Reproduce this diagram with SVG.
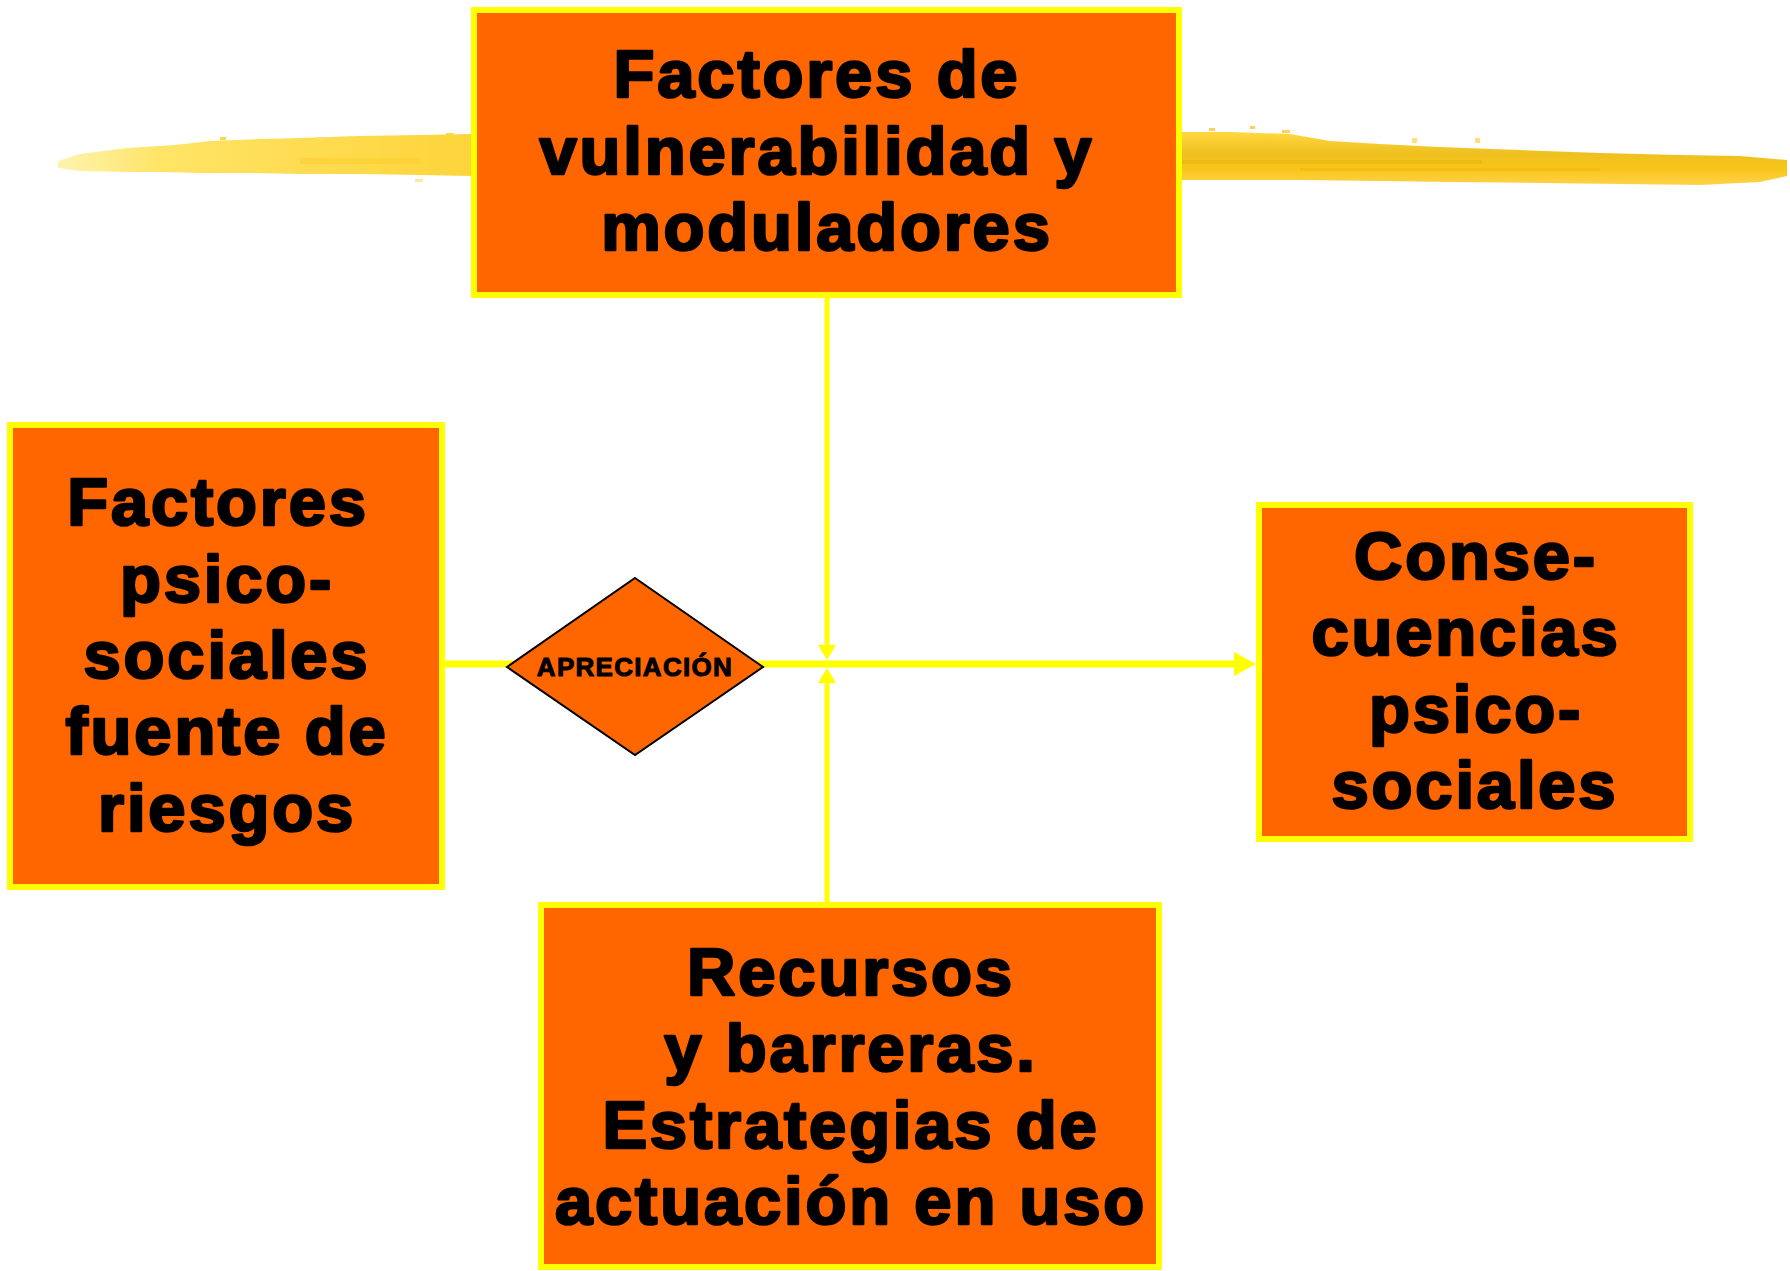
<svg xmlns="http://www.w3.org/2000/svg" width="1790" height="1271" viewBox="0 0 1790 1271">
<defs>
<style>
.box{fill:#FF6600;stroke:#FFFF00;stroke-width:6}
.t{font-family:"Liberation Sans",Arial,sans-serif;font-weight:bold;font-size:67px;letter-spacing:2.8px;fill:#000;stroke:#000;stroke-width:2.6;stroke-linejoin:round;text-anchor:middle}
.ts{font-family:"Liberation Sans",Arial,sans-serif;font-weight:bold;font-size:26px;letter-spacing:1.3px;fill:#000;stroke:#000;stroke-width:1;stroke-linejoin:round;text-anchor:middle}
.con{stroke:#FFFF00;fill:none}
</style>
<linearGradient id="gl" x1="0" y1="0" x2="1" y2="0">
<stop offset="0" stop-color="#FFF3B0"/>
<stop offset="0.25" stop-color="#FFE466"/>
<stop offset="1" stop-color="#FDD43A"/>
</linearGradient>
<linearGradient id="gr" x1="0" y1="0" x2="0" y2="1">
<stop offset="0" stop-color="#FFD840"/>
<stop offset="0.4" stop-color="#EEC020"/>
<stop offset="0.7" stop-color="#F8C51A"/>
<stop offset="1" stop-color="#FFD24A"/>
</linearGradient>
<marker id="ah" markerUnits="userSpaceOnUse" markerWidth="15" markerHeight="18" refX="0" refY="9" orient="auto">
<path d="M0,0 L15,9 L0,18 Z" fill="#FFFF00"/>
</marker>
<marker id="ah2" markerUnits="userSpaceOnUse" markerWidth="22" markerHeight="24" refX="0" refY="12" orient="auto">
<path d="M0,0 L22,12 L0,24 Z" fill="#FFFF00"/>
</marker>
</defs>
<rect width="1790" height="1271" fill="#FFFFFF"/>

<g id="brush-left">
<polygon points="58,161 80,154 127,148 175,145 210,141 260,139 300,138 360,136 420,135 471,134 471,176 420,175 360,174 300,174 250,173 200,173 160,172 127,172 80,171 58,168" fill="url(#gl)"/>
<rect x="300" y="158" width="120" height="6" fill="#FBCF30" opacity="0.6"/>
<rect x="220" y="137" width="6" height="3" fill="#FFD84A"/>
<rect x="316" y="137" width="8" height="3" fill="#FFE066"/>
<rect x="415" y="179" width="8" height="3" fill="#FFE9A0"/>
<rect x="446" y="133" width="8" height="2" fill="#FFD84A"/>
</g>

<g id="brush-right">
<polygon points="1182,132 1230,132 1290,134 1330,141 1380,144 1440,147 1520,150 1600,153 1680,155 1740,156 1787,160 1787,176 1760,182 1700,185 1620,184 1540,183 1450,182 1380,181 1300,180 1240,180 1182,180" fill="url(#gr)"/>
<rect x="1182" y="160" width="300" height="4" fill="#E6B410" opacity="0.6"/>
<rect x="1300" y="168" width="300" height="3" fill="#F2B700" opacity="0.5"/>
<rect x="1209" y="128" width="6" height="3" fill="#FFD060"/>
<rect x="1250" y="126" width="5" height="3" fill="#FFD060"/>
<rect x="1282" y="130" width="8" height="3" fill="#FFD060"/>
<rect x="1412" y="138" width="5" height="5" fill="#FFE080"/>
<rect x="1475" y="138" width="5" height="5" fill="#FFE080"/>
</g>

<g id="connectors">
<line class="con" x1="445" y1="664" x2="1234" y2="664" stroke-width="7" marker-end="url(#ah2)"/>
<line class="con" x1="827" y1="298" x2="827" y2="645" stroke-width="5" marker-end="url(#ah)"/>
<line class="con" x1="827" y1="902" x2="827" y2="683" stroke-width="5" marker-end="url(#ah)"/>
</g>

<g id="node-apreciacion">
<polygon points="635,578 763,667 635,755 507,667" fill="#FF6600" stroke="#000" stroke-width="2"/>
<text class="ts" x="635" y="676">APRECIACIÓN</text>
</g>

<g id="node-vulnerabilidad">
<rect class="box" x="474" y="10" width="705" height="285"/>
<text class="t" x="817" y="97">Factores de</text>
<text class="t" x="817" y="174">vulnerabilidad y</text>
<text class="t" x="827" y="250">moduladores</text>
</g>

<g id="node-factores">
<rect class="box" x="10" y="425" width="432" height="462"/>
<text class="t" x="218" y="525">Factores</text>
<text class="t" x="227" y="602">psico-</text>
<text class="t" x="227" y="678">sociales</text>
<text class="t" x="227" y="754">fuente de</text>
<text class="t" x="227" y="831">riesgos</text>
</g>

<g id="node-consecuencias">
<rect class="box" x="1259" y="505" width="431" height="334"/>
<text class="t" x="1476" y="579">Conse-</text>
<text class="t" x="1466" y="655">cuencias</text>
<text class="t" x="1476" y="732">psico-</text>
<text class="t" x="1475" y="808">sociales</text>
</g>

<g id="node-recursos">
<rect class="box" x="541" y="905" width="618" height="362"/>
<text class="t" x="851" y="995">Recursos</text>
<text class="t" x="851" y="1071">y barreras.</text>
<text class="t" x="851" y="1148">Estrategias de</text>
<text class="t" x="851" y="1224">actuación en uso</text>
</g>
</svg>
